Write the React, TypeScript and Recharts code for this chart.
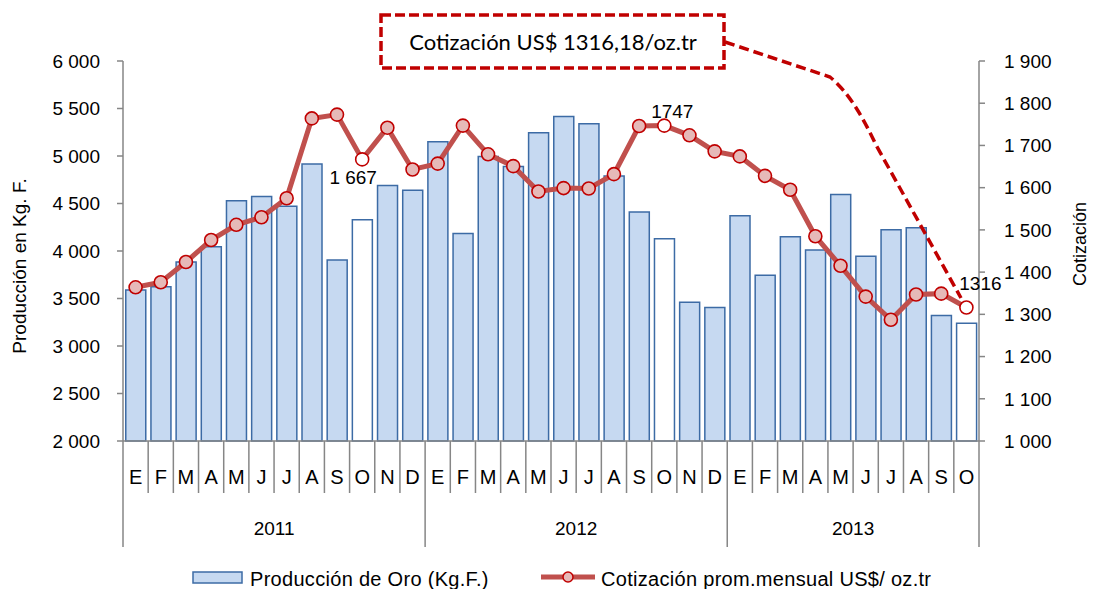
import React from 'react';
import { ComposedChart, Bar, Line, XAxis, YAxis, Cell } from 'recharts';

const MONTHS = [
  'E', 'F', 'M', 'A', 'M', 'J', 'J', 'A', 'S', 'O', 'N', 'D',
  'E', 'F', 'M', 'A', 'M', 'J', 'J', 'A', 'S', 'O', 'N', 'D',
  'E', 'F', 'M', 'A', 'M', 'J', 'J', 'A', 'S', 'O',
];
const YEARS = ['2011', '2012', '2013'];
const MONTHS_PER_YEAR = [12, 12, 10];

// Producción de oro (Kg. F.)
const PRODUCCION = [
  3590, 3625, 3885, 4045, 4530, 4575, 4470, 4915, 3905, 4330, 4690, 4640,
  5150, 4185, 4995, 4890, 5245, 5415, 5340, 4790, 4410, 4130, 3460, 3405,
  4370, 3745, 4150, 4010, 4595, 3945, 4225, 4245, 3320, 3240,
];
// Cotización prom. mensual US$/oz.tr
const COTIZACION = [
  1364, 1376, 1424, 1476, 1512, 1530, 1575, 1764, 1773, 1667, 1742, 1643,
  1657, 1747, 1679, 1651, 1591, 1599, 1598, 1632, 1746, 1747, 1724, 1686,
  1674, 1628, 1595, 1485, 1415, 1342, 1287, 1347, 1349, 1316.18,
];
const HIGHLIGHT = [9, 21, 33];
const LABEL_INDEX = [9, 21, 33];
const LABEL_TEXT = ['1 667', '1747', '1316'];

const LEFT_TICKS = [2000, 2500, 3000, 3500, 4000, 4500, 5000, 5500, 6000];
const RIGHT_TICKS = [1000, 1100, 1200, 1300, 1400, 1500, 1600, 1700, 1800, 1900];

const data = MONTHS.map((m, i) => ({
  key: `${m}-${i}`,
  prod: PRODUCCION[i],
  cotiz: COTIZACION[i],
}));

const YEAR_STARTS = MONTHS_PER_YEAR.map((_, i) =>
  MONTHS_PER_YEAR.slice(0, i).reduce((a, b) => a + b, 0)
);

const W = 1094;
const H = 589;
const LEFT_W = 123;
const RIGHT_W = 115;
const SLOT = (W - LEFT_W - RIGHT_W) / MONTHS.length;

const FONT = 'Liberation Sans, Arial, sans-serif';
const AXIS_GRAY = '#868686';
const BAR_FILL = '#c6d9f1';
const BAR_STROKE = '#3c6ba5';
const LINE_COLOR = '#c0504d';
const DOT_STROKE = '#c00000';

const LABEL_OFFSETS = [[-9, 25], [8, -8], [14, -18]];

const fmt = (v: number) => `${Math.floor(v / 1000)} ${String(v % 1000).padStart(3, '0')}`;

const XTick = (props: any) => {
  const { x, y, index } = props;
  const left = x - SLOT / 2;
  const yi = YEAR_STARTS.indexOf(index);
  const last = index === MONTHS.length - 1;
  return (
    <g>
      <line x1={left} x2={left} y1={y} y2={y + (yi >= 0 ? 106 : 52)} stroke={AXIS_GRAY} strokeWidth={1.5} />
      {last && (
        <line x1={x + SLOT / 2} x2={x + SLOT / 2} y1={y} y2={y + 106} stroke={AXIS_GRAY} strokeWidth={1.5} />
      )}
      <text x={x} y={y + 43} textAnchor="middle" fontSize={20} fontFamily={FONT} fill="#000">
        {MONTHS[index]}
      </text>
      {yi >= 0 && (
        <text x={left + (MONTHS_PER_YEAR[yi] * SLOT) / 2} y={y + 94} textAnchor="middle" fontSize={19} fontFamily={FONT} fill="#000">
          {YEARS[yi]}
        </text>
      )}
    </g>
  );
};

const renderDot = (props: any) => {
  const { cx, cy, index } = props;
  const hi = HIGHLIGHT.includes(index);
  const li = LABEL_INDEX.indexOf(index);
  return (
    <g key={`dot-${index}`}>
      <circle cx={cx} cy={cy} r={6.5} fill={hi ? '#ffffff' : '#e6b9b8'} stroke={DOT_STROKE} strokeWidth={1.6} />
      {li >= 0 && (
        <text
          x={cx + LABEL_OFFSETS[li][0]}
          y={cy + LABEL_OFFSETS[li][1]}
          textAnchor="middle"
          fontSize={19}
          fontFamily={FONT}
          fill="#000"
        >
          {LABEL_TEXT[li]}
        </text>
      )}
    </g>
  );
};

export default function App() {
  return (
    <div style={{ position: 'absolute', left: 0, top: 0, width: W, height: H, background: '#fff', overflow: 'hidden' }}>
      <ComposedChart
        width={W}
        height={H}
        data={data}
        margin={{ top: 61, right: 0, left: 0, bottom: 0 }}
        barCategoryGap="11%"
      >
        <XAxis
          dataKey="key"
          height={148}
          interval={0}
          tickSize={0}
          tickMargin={0}
          tick={<XTick />}
          axisLine={{ stroke: AXIS_GRAY, strokeWidth: 1.5 }}
        />
        <YAxis
          yAxisId="left"
          width={LEFT_W}
          domain={[2000, 6000]}
          ticks={LEFT_TICKS}
          tickFormatter={fmt}
          tickSize={6}
          tickMargin={17}
          tick={{ fill: '#000', fontSize: 19, fontFamily: FONT }}
          axisLine={{ stroke: AXIS_GRAY, strokeWidth: 1.5 }}
          tickLine={{ stroke: AXIS_GRAY, strokeWidth: 1.5 }}
        />
        <YAxis
          yAxisId="right"
          orientation="right"
          width={RIGHT_W}
          domain={[1000, 1900]}
          ticks={RIGHT_TICKS}
          tickFormatter={fmt}
          tickSize={6}
          tickMargin={19}
          tick={{ fill: '#000', fontSize: 19, fontFamily: FONT, textAnchor: 'start' }}
          axisLine={{ stroke: AXIS_GRAY, strokeWidth: 1.5 }}
          tickLine={{ stroke: AXIS_GRAY, strokeWidth: 1.5 }}
        />
        <Bar yAxisId="left" dataKey="prod" fill={BAR_FILL} stroke={BAR_STROKE} strokeWidth={1.5} isAnimationActive={false}>
          {data.map((d, i) => (
            <Cell key={`cell-${i}`} fill={HIGHLIGHT.includes(i) ? '#ffffff' : BAR_FILL} />
          ))}
        </Bar>
        <Line
          yAxisId="right"
          dataKey="cotiz"
          stroke={LINE_COLOR}
          strokeWidth={5}
          dot={renderDot}
          activeDot={false}
          isAnimationActive={false}
        />
      </ComposedChart>

      {/* annotation box, arrow, axis titles and legend */}
      <svg width={W} height={H} style={{ position: 'absolute', left: 0, top: 0, pointerEvents: 'none' }}>
        <rect x={381} y={15} width={343} height={53} fill="none" stroke={DOT_STROKE} strokeWidth={3.5} strokeDasharray="10 4" />
        <text x={553} y={50} textAnchor="middle" fontSize={22} fontFamily="Lato, 'Open Sans', sans-serif" fill="#000">
          Cotización US$ 1316,18/oz.tr
        </text>
        <path
          d="M 725 42 L 830 77 C 848 92 862 115 876 145 L 961 298"
          fill="none"
          stroke={DOT_STROKE}
          strokeWidth={3.5}
          strokeDasharray="10 5"
        />
        <text transform="translate(26,266) rotate(-90)" textAnchor="middle" fontSize={19} fontFamily={FONT} fill="#000">
          Producción en Kg. F.
        </text>
        <text transform="translate(1086,244) rotate(-90)" textAnchor="middle" fontSize={18} fontFamily={FONT} fill="#000">
          Cotización
        </text>
        <rect x={193} y={572} width={49} height={11} fill={BAR_FILL} stroke={BAR_STROKE} strokeWidth={1.5} />
        <text x={250} y={586} fontSize={20} letterSpacing={0.3} fontFamily={FONT} fill="#000">
          Producción de Oro (Kg.F.)
        </text>
        <line x1={541} x2={595} y1={577} y2={577} stroke={LINE_COLOR} strokeWidth={5} />
        <circle cx={568} cy={577} r={5} fill="#e6b9b8" stroke={DOT_STROKE} strokeWidth={1.5} />
        <text x={601} y={586} fontSize={20} letterSpacing={0.3} fontFamily={FONT} fill="#000">
          Cotización prom.mensual US$/ oz.tr
        </text>
      </svg>
    </div>
  );
}
